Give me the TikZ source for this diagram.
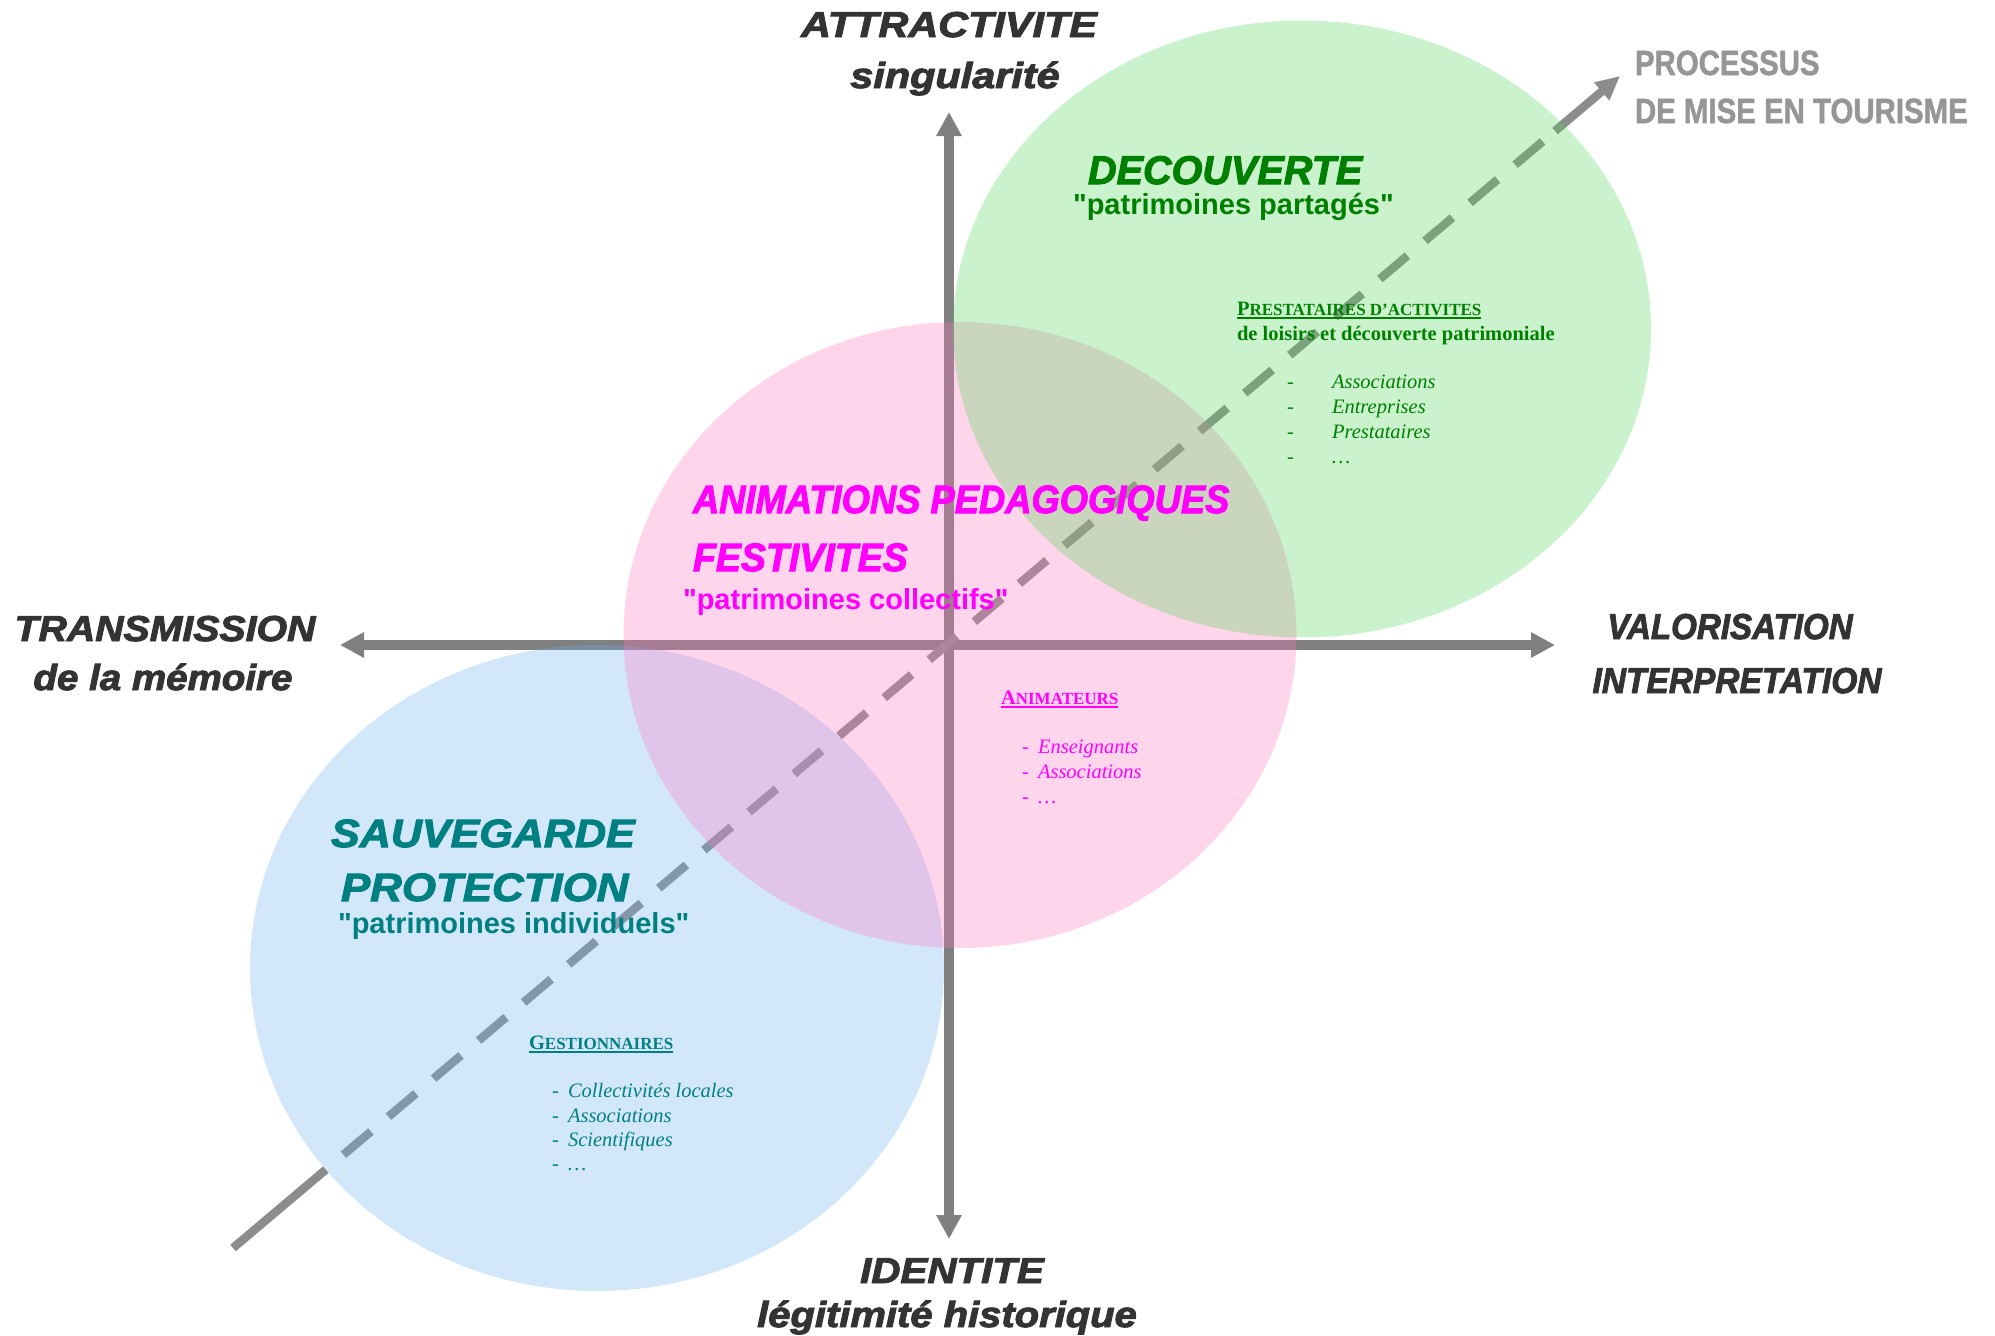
\documentclass[tikz,border=0pt]{standalone}
\usepackage{fontspec}
\usepackage{graphicx}
\setmainfont{Liberation Serif}
\newfontfamily\arialf{Liberation Sans}
\newfontfamily\heavyf{Liberation Sans}[BoldItalicFeatures={FakeBold=2.5}]
\newfontfamily\procf{Liberation Sans}[BoldFeatures={FakeBold=1.5}]
\usetikzlibrary{arrows.meta,shapes.geometric}
\definecolor{cblue}{RGB}{112,178,245}
\definecolor{cpink}{RGB}{255,118,192}
\definecolor{cgreen}{RGB}{82,215,88}
\definecolor{axisgray}{RGB}{128,128,128}
\definecolor{diaggray}{RGB}{140,140,140}
\definecolor{labgray}{RGB}{51,51,51}
\definecolor{procgray}{RGB}{150,150,150}
\definecolor{dgreen}{RGB}{0,128,0}
\definecolor{dmag}{RGB}{255,0,255}
\definecolor{dteal}{RGB}{0,128,128}
\newcommand{\hsc}[2]{\scalebox{#1}[1]{#2}}
\newsavebox\ulb
\newcommand{\ulbox}[1]{\sbox\ulb{#1}\rlap{\rule[-3.5pt]{\wd\ulb}{2pt}}\usebox\ulb}
\newcommand{\fsc}[2]{{\fontsize{20.5}{25}\selectfont #1}{\fontsize{17}{25}\selectfont #2}}
\tikzset{
  axis/.style={draw=axisgray, line width=10pt, {Triangle[width=24pt,length=24pt]}-{Triangle[width=24pt,length=24pt]}},
  diag/.style={draw=diaggray, line width=8.5pt},
  blob/.style={ellipse, inner sep=0pt, outer sep=0pt, draw=none, fill opacity=0.3},
  txt/.style={anchor=base west, inner sep=0pt, outer sep=0pt},
  ctr/.style={anchor=base, inner sep=0pt, outer sep=0pt},
  lab/.style={text=labgray, font=\heavyf\bfseries\itshape\fontsize{36}{40}\selectfont},
  proc/.style={text=procgray, font=\procf\bfseries\fontsize{35}{38}\selectfont},
  big/.style={font=\heavyf\bfseries\itshape\fontsize{39.5}{44}\selectfont},
  sub/.style={font=\arialf\bfseries\fontsize{29}{32}\selectfont},
  hdr/.style={font=\bfseries\fontsize{20.5}{25}\selectfont},
  itm/.style={font=\itshape\fontsize{20.5}{25}\selectfont},
}
\begin{document}
\begin{tikzpicture}[x=1pt,y=-1pt]
\fill[white] (0,0) rectangle (1995,1336);
\useasboundingbox (0,0) rectangle (1995,1336);
% axes
\coordinate (axT) at (949,112);
\coordinate (axB) at (949,1239);
\coordinate (axL) at (340,645);
\coordinate (axR) at (1555,645);
\draw[axis] (axB) -- (axT);
\draw[axis] (axL) -- (axR);
% diagonal process line
\coordinate (dS) at (233,1248);
\coordinate (dB) at (325.8,1169.6);
\coordinate (dE) at (1555,131);
\coordinate (dT) at (1620,76);
\draw[diag] (dS) -- (dB);
\draw[diag, dash pattern=on 36pt off 23pt, dash phase=36pt] (dB) -- (dE);
\draw[diag, -{Triangle[width=22pt,length=24pt]}] (dE) -- (dT);
% ellipses
\node[blob, fill=cblue, minimum width=694pt, minimum height=646pt] (eBlue) at (597,968) {};
\node[blob, fill=cpink, minimum width=673pt, minimum height=626pt] (ePink) at (960,635) {};
\node[blob, fill=cgreen, minimum width=698pt, minimum height=617pt] (eGreen) at (1302,329) {};
% axis labels
\node[ctr, lab] (tA1) at (949,37) {\hsc{1.15}{ATTRACTIVITE}};
\node[ctr, lab] (tA2) at (955,88) {\hsc{1.15}{singularité}};
\node[ctr, lab] (tI1) at (952,1283) {\hsc{1.12}{IDENTITE}};
\node[ctr, lab] (tI2) at (947,1327) {\hsc{1.11}{légitimité historique}};
\node[ctr, lab] (tT1) at (165,641) {\hsc{1.09}{TRANSMISSION}};
\node[ctr, lab] (tT2) at (163,690) {\hsc{1.07}{de la mémoire}};
\node[ctr, lab] (tV1) at (1730,639) {\hsc{0.92}{VALORISATION}};
\node[ctr, lab] (tV2) at (1737,693) {\hsc{0.93}{INTERPRETATION}};
\node[txt, proc] (tP1) at (1635,75) {\hsc{0.84}{PROCESSUS}};
\node[txt, proc] (tP2) at (1635,123) {\hsc{0.84}{DE MISE EN TOURISME}};
% green block
\node[txt, text=dgreen, font=\heavyf\bfseries\itshape\fontsize{40}{44}\selectfont] (gT) at (1088,184) {\hsc{0.99}{DECOUVERTE}};
\node[txt, sub, text=dgreen] (gS) at (1073,214) {"patrimoines partagés"};
\node[txt, hdr, text=dgreen] (gH) at (1237,315) {\ulbox{\fsc{P}{RESTATAIRES D’ACTIVITES}}};
\node[txt, hdr, text=dgreen] (gH2) at (1237,340) {de loisirs et découverte patrimoniale};
\node[txt, itm, text=dgreen] (gd1) at (1287,388) {-};
\node[txt, itm, text=dgreen] (gd2) at (1287,413) {-};
\node[txt, itm, text=dgreen] (gd3) at (1287,438) {-};
\node[txt, itm, text=dgreen] (gd4) at (1287,463) {-};
\node[txt, itm, text=dgreen] (gi1) at (1332,388) {Associations};
\node[txt, itm, text=dgreen] (gi2) at (1332,413) {Entreprises};
\node[txt, itm, text=dgreen] (gi3) at (1332,438) {Prestataires};
\node[txt, itm, text=dgreen] (gi4) at (1332,463) {…};
% pink block
\node[txt, big, text=dmag] (pT1) at (693,513) {\hsc{0.92}{ANIMATIONS PEDAGOGIQUES}};
\node[txt, big, text=dmag] (pT2) at (693,571) {\hsc{0.95}{FESTIVITES}};
\node[txt, sub, text=dmag] (pS) at (683,609) {"patrimoines collectifs"};
\node[txt, hdr, text=dmag] (pH) at (1001,704) {\ulbox{\fsc{A}{NIMATEURS}}};
\node[txt, itm, text=dmag] (pd1) at (1022,753) {-};
\node[txt, itm, text=dmag] (pd2) at (1022,778) {-};
\node[txt, itm, text=dmag] (pd3) at (1022,803) {-};
\node[txt, itm, text=dmag] (pi1) at (1038,753) {Enseignants};
\node[txt, itm, text=dmag] (pi2) at (1038,778) {Associations};
\node[txt, itm, text=dmag] (pi3) at (1038,803) {…};
% teal block
\node[txt, big, text=dteal] (bT1) at (331,847) {\hsc{1.09}{SAUVEGARDE}};
\node[txt, big, text=dteal] (bT2) at (341,901) {\hsc{1.11}{PROTECTION}};
\node[txt, sub, text=dteal] (bS) at (338,933) {"patrimoines individuels"};
\node[txt, hdr, text=dteal] (bH) at (529,1049) {\ulbox{\fsc{G}{ESTIONNAIRES}}};
\node[txt, itm, text=dteal] (bd1) at (552,1097) {-};
\node[txt, itm, text=dteal] (bd2) at (552,1122) {-};
\node[txt, itm, text=dteal] (bd3) at (552,1146) {-};
\node[txt, itm, text=dteal] (bd4) at (552,1170) {-};
\node[txt, itm, text=dteal] (bi1) at (568,1097) {Collectivités locales};
\node[txt, itm, text=dteal] (bi2) at (568,1122) {Associations};
\node[txt, itm, text=dteal] (bi3) at (568,1146) {Scientifiques};
\node[txt, itm, text=dteal] (bi4) at (568,1170) {…};
\end{tikzpicture}
\end{document}
